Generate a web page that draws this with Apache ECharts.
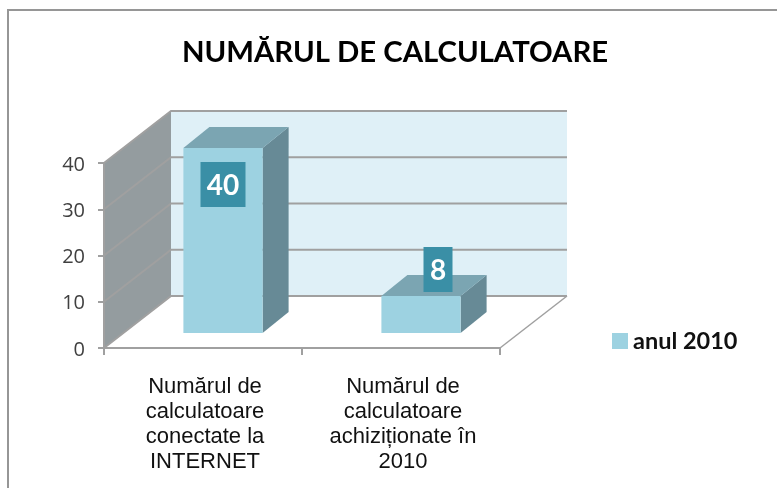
<!DOCTYPE html>
<html>
<head>
<meta charset="utf-8">
<title>Numărul de calculatoare</title>
<script src="https://cdn.jsdelivr.net/npm/echarts@6/dist/echarts.min.js"></script>
<style>
  html, body { margin: 0; padding: 0; background: #fff; }
  #chart { width: 777px; height: 488px; }
</style>
</head>
<body>
<div id="chart"></div>
<script>
const titleText = 'NUMĂRUL DE CALCULATOARE';
const seriesName = 'anul 2010';
const categories = [
  'Numărul de\ncalculatoare\nconectate la\nINTERNET',
  'Numărul de\ncalculatoare\nachiziționate în\n2010'
];
const values = [40, 8];
const yTicks = [0, 10, 20, 30, 40];

// 3d look: how far the back wall sits from the front plane, in px
const WALL_DX = 67;
const WALL_DY = -52;
const BAR_SHIFT = [20, -15];
const BAR_DX = 26;
const BAR_DY = -21;
const BAR_RATIO = 0.4;
// data label boxes, relative to the top centre of the front face
const labelBoxes = [
  { dx: 0, top: 14, w: 45, h: 45 },
  { dx: 17, top: -49, w: 29, h: 45 }
];

const COLOR_FRONT = '#9dd2e1';
const COLOR_TOP = '#7ba5b2';
const COLOR_SIDE = '#678a96';
const COLOR_WALL = '#dff0f7';
const COLOR_SIDEWALL = '#949c9f';
const COLOR_LINE = '#a0a0a0';
const COLOR_LABEL = '#3a8fa6';

function renderWalls(params, api) {
  const grid = params.coordSys;
  const x0 = grid.x;
  const x1 = grid.x + grid.width;
  const yBase = api.coord([0, 0])[1];
  const yTop = api.coord([0, yTicks[yTicks.length - 1]])[1];
  const children = [{
    type: 'polygon',
    shape: { points: [[x0, yBase], [x0 + WALL_DX, yBase + WALL_DY], [x0 + WALL_DX, yTop + WALL_DY], [x0, yTop]] },
    style: { fill: COLOR_SIDEWALL }
  }, {
    type: 'rect',
    shape: { x: x0 + WALL_DX, y: yTop + WALL_DY, width: grid.width, height: yBase - yTop },
    style: { fill: COLOR_WALL }
  }, {
    type: 'line',
    shape: { x1: x1, y1: yBase, x2: x1 + WALL_DX, y2: yBase + WALL_DY },
    style: { stroke: COLOR_LINE, lineWidth: 1.5 }
  }];
  yTicks.forEach(function (t) {
    const y = api.coord([0, t])[1];
    children.push({
      type: 'polyline',
      shape: { points: [[x0, y], [x0 + WALL_DX, y + WALL_DY], [x1 + WALL_DX, y + WALL_DY]] },
      style: { stroke: COLOR_LINE, lineWidth: 2, fill: 'none' }
    });
  });
  return { type: 'group', children: children };
}

function renderBar(params, api) {
  const i = api.value(0);
  const top = api.coord([i, api.value(1)]);
  const base = api.coord([i, 0]);
  const w = api.size([1, 0])[0] * BAR_RATIO;
  const left = top[0] - w / 2 + BAR_SHIFT[0];
  const right = left + w;
  const yTop = top[1] + BAR_SHIFT[1];
  const yBase = base[1] + BAR_SHIFT[1];
  const box = labelBoxes[i];
  const boxCx = (left + right) / 2 + box.dx;
  return {
    type: 'group',
    children: [{
      type: 'polygon',
      shape: { points: [[right, yTop], [right + BAR_DX, yTop + BAR_DY], [right + BAR_DX, yBase + BAR_DY], [right, yBase]] },
      style: { fill: COLOR_SIDE }
    }, {
      type: 'polygon',
      shape: { points: [[left, yTop], [left + BAR_DX, yTop + BAR_DY], [right + BAR_DX, yTop + BAR_DY], [right, yTop]] },
      style: { fill: COLOR_TOP }
    }, {
      type: 'rect',
      shape: { x: left, y: yTop, width: w, height: yBase - yTop },
      style: { fill: COLOR_FRONT }
    }, {
      type: 'rect',
      shape: { x: boxCx - box.w / 2, y: yTop + box.top, width: box.w, height: box.h },
      style: { fill: COLOR_LABEL }
    }, {
      type: 'text',
      style: {
        x: boxCx,
        y: yTop + box.top + box.h / 2 + 1,
        text: String(api.value(1)),
        fill: '#fff',
        font: 'bold 28px Lato',
        align: 'center',
        verticalAlign: 'middle'
      }
    }]
  };
}

const chart = echarts.init(document.getElementById('chart'), null, { renderer: 'canvas' });

chart.setOption({
  animation: false,
  backgroundColor: '#fff',
  title: {
    text: titleText,
    left: 390,
    top: 33,
    textAlign: 'center',
    textStyle: { fontFamily: 'Lato', fontWeight: 'bold', fontSize: 29.3, color: '#000' }
  },
  legend: {
    data: [seriesName],
    left: 607,
    top: 324,
    icon: 'rect',
    itemWidth: 16,
    itemHeight: 16,
    itemGap: 6,
    textStyle: { fontFamily: 'Lato', fontWeight: 'bold', fontSize: 23.5, color: '#111' }
  },
  grid: { left: 104, right: 277, top: 163, bottom: 140 },
  xAxis: {
    type: 'category',
    data: categories,
    z: 3,
    axisLine: { lineStyle: { color: COLOR_LINE, width: 2 } },
    axisTick: { show: true, length: 7, lineStyle: { color: COLOR_LINE, width: 2 } },
    axisLabel: {
      interval: 0,
      margin: 26,
      padding: [0, 0, 0, 4],
      fontFamily: 'Liberation Sans',
      fontSize: 22,
      lineHeight: 25,
      color: '#111'
    }
  },
  yAxis: {
    type: 'value',
    min: 0,
    max: 40,
    interval: 10,
    z: 3,
    splitLine: { show: false },
    axisLine: { show: true, lineStyle: { color: COLOR_LINE, width: 2 } },
    axisTick: { show: true, length: 6, lineStyle: { color: COLOR_LINE, width: 2 } },
    axisLabel: { margin: 19, verticalAlign: 'top', lineHeight: 4, fontFamily: 'Open Sans', fontSize: 20, color: '#404040' }
  },
  graphic: [{
    type: 'polyline',
    shape: { points: [[8, 488], [8, 10], [777, 10]] },
    style: { stroke: '#969696', lineWidth: 2, fill: 'none' }
  }],
  series: [{
    type: 'custom',
    name: 'walls',
    z: 1,
    silent: true,
    renderItem: renderWalls,
    data: [[0]]
  }, {
    type: 'custom',
    name: seriesName,
    z: 4,
    itemStyle: { color: COLOR_FRONT },
    encode: { x: 0, y: 1 },
    renderItem: renderBar,
    data: values.map(function (v, i) { return [i, v]; })
  }]
});
</script>
</body>
</html>
